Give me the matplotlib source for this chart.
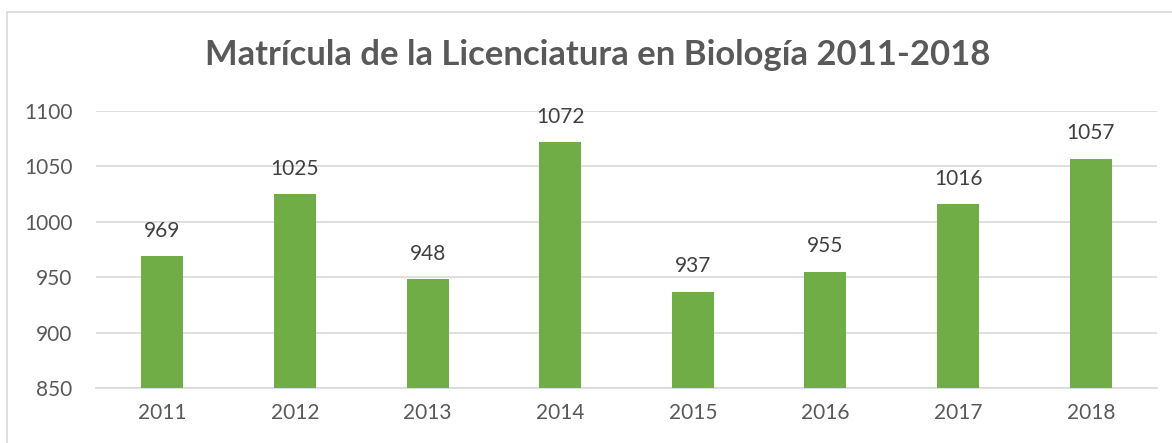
import matplotlib
matplotlib.use("Agg")
import matplotlib.pyplot as plt
from matplotlib.patches import Rectangle

years = ["2011", "2012", "2013", "2014", "2015", "2016", "2017", "2018"]
values = [969, 1025, 948, 1072, 937, 955, 1016, 1057]
yticks = [850, 900, 950, 1000, 1050, 1100]
title = "Matrícula de la Licenciatura en Biología 2011-2018"

plt.rcParams['font.family'] = ['Lato', 'DejaVu Sans']

W, H = 1172, 443
fig = plt.figure(figsize=(W/100, H/100), dpi=100)
fig.patches.append(Rectangle((7/W, -0.1), 1.2, (H-12)/H + 0.1, transform=fig.transFigure,
                             fill=False, edgecolor='#d9d9d9', linewidth=1.2))

ax = fig.add_axes([96/W, 1-388/H, (1157-96)/W, (388-111)/H])
x = list(range(len(years)))
ax.bar(x, values, width=0.317, color='#70ad47', zorder=3)
ax.set_ylim(850, 1100)
ax.set_xlim(-0.5, len(years)-0.5)
ax.set_yticks(yticks)
ax.set_xticks(x)
ax.set_xticklabels(years)
ax.grid(axis='y', color='#d9d9d9', linewidth=1.2, zorder=0)
for s in ['top', 'right', 'left']:
    ax.spines[s].set_visible(False)
ax.spines['bottom'].set_color('#d9d9d9')
ax.spines['bottom'].set_linewidth(1.2)
ax.tick_params(axis='both', length=0, labelsize=15, colors='#595959')
ax.tick_params(axis='x', pad=11)
ax.tick_params(axis='y', pad=17)
for xi, v in zip(x, values):
    ax.annotate(str(v), (xi, v), xytext=(0, 11), textcoords='offset points',
                ha='center', va='bottom', fontsize=15, color='#404040')

fig.text(598/W, 1-55/H, title, ha='center', va='center', fontsize=24.9,
         fontweight='bold', color='#595959')

fig.savefig("out.png", dpi=100, facecolor='white')
